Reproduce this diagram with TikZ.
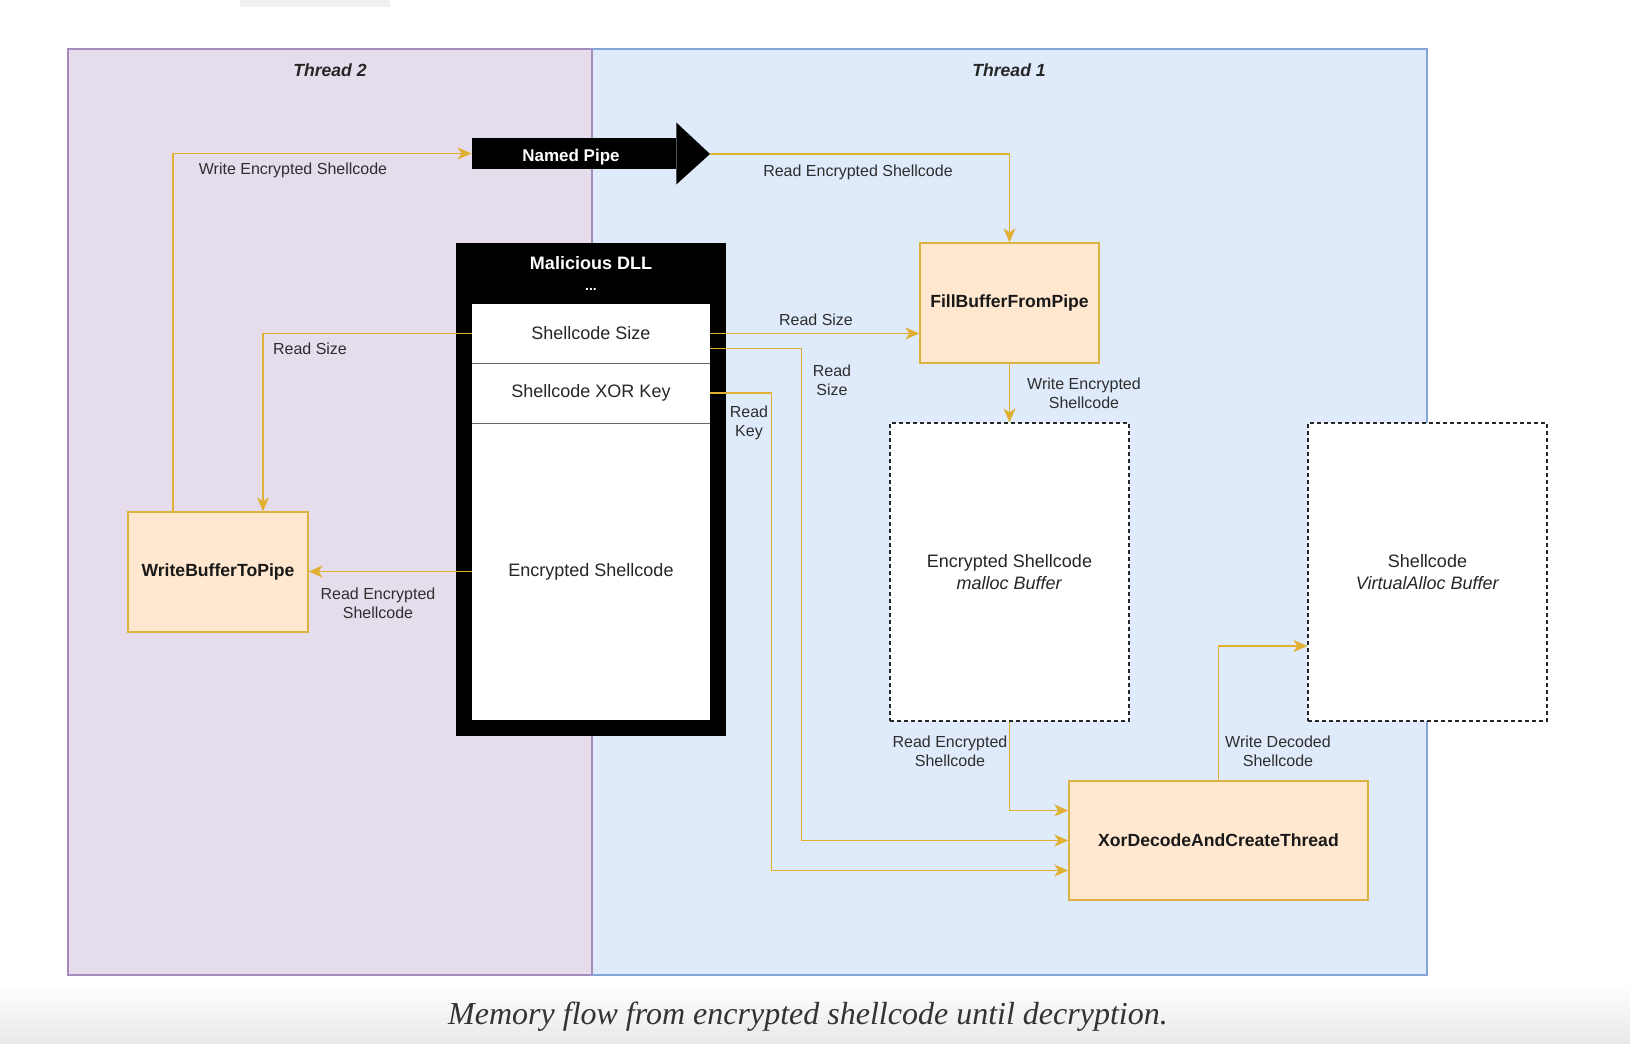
\documentclass[tikz,border=0pt]{standalone}
\usepackage{fontspec}
\setmainfont{Liberation Sans}
\newfontfamily\capfont{Liberation Serif}
\usetikzlibrary{arrows.meta,calc}

\definecolor{lanetwo}{HTML}{E6DDEC}
\definecolor{lanetwod}{HTML}{A48BB8}
\definecolor{laneone}{HTML}{DFEAFB}
\definecolor{laneoned}{HTML}{86A6DA}
\definecolor{funcf}{HTML}{FFE8CF}
\definecolor{funcd}{HTML}{DDB240}
\definecolor{flowc}{HTML}{DFB032}
\definecolor{labc}{HTML}{2E2E2E}

\begin{document}
\begin{tikzpicture}[x=0.5pt,y=-0.5pt,
	flow/.style={draw=flowc,line width=0.8pt,-{Stealth[length=7pt,width=6pt,inset=2pt]}},
	func/.style={draw=funcd,fill=funcf,line width=0.7pt,inner sep=0pt,
		font=\fontsize{8.8}{11}\selectfont\bfseries,text=black!90},
	buf/.style={draw=black!85,fill=white,line width=0.6pt,dash pattern=on 2pt off 1.5pt,
		minimum width=119.5pt,minimum height=149pt,inner sep=0pt,align=center,
		font=\fontsize{9}{11}\selectfont,text=black!85},
	cell/.style={fill=white,minimum width=119pt,
		inner sep=0pt,font=\fontsize{9}{11}\selectfont,text=black!85},
	lbl/.style={font=\fontsize{8}{9.5}\selectfont,text=labc,align=center,inner sep=0pt},
	lane/.style={font=\fontsize{8.8}{11}\selectfont\bfseries\itshape,text=black!85}]
\useasboundingbox (0,0) rectangle (1630,1044);

% page bits round the figure
\fill[black!6] (240,0) rectangle (390,7);
\shade[top color=white,bottom color=black!9] (0,985) rectangle (1630,1044);

% the two threads
\draw[fill=lanetwo,draw=lanetwod,line width=0.6pt] (68,49) rectangle (592,975);
\draw[fill=laneone,draw=laneoned,line width=0.6pt] (592,49) rectangle (1427,975);
\draw[lanetwod,line width=0.6pt] (592,49) -- (592,975);
\node[lane] (tlab2) at (330,70) {Thread 2};
\node[lane] (tlab1) at (1009,70) {Thread 1};

% named pipe
\node[fill=black,minimum width=102pt,minimum height=15.5pt,inner sep=0pt] (pipe) at (574,153.5) {};
\coordinate (pipetip) at (710,154);
\fill ([yshift=7.5pt]pipe.north east) -- (pipetip) -- ([yshift=-7.5pt]pipe.south east) -- cycle;
\node[text=white,font=\fontsize{8.5}{10}\selectfont\bfseries] (pipelab) at (571,157) {Named Pipe};

% malicious dll
\node[fill=black,minimum width=135pt,minimum height=246.5pt,inner sep=0pt] (dll) at (591,489.5) {};
\node[text=white,font=\fontsize{9}{11}\selectfont\bfseries] (dlltitle) at (591,263) {Malicious DLL};
\node[text=white,font=\fontsize{7}{8}\selectfont\bfseries] (dlldots) at (591,289) {...};
\foreach \nm/\txt/\cy/\hgt in {size/Shellcode Size/333.5/29.5pt,
	key/Shellcode XOR Key/393/30pt,
	enc/Encrypted Shellcode/571.5/148.5pt}{
	\node[cell,minimum height=\hgt] (\nm) at (591,\cy) {\txt};
}
\draw[black!60,line width=0.8pt] (size.south west) -- (size.south east)
	(key.south west) -- (key.south east);

% functions
\node[func,minimum width=90pt,minimum height=60pt] (wbuf) at (218,572) {WriteBufferToPipe};
\node[func,minimum width=89.5pt,minimum height=60pt] (fill) at (1009.5,303) {FillBufferFromPipe};
\node[func,minimum width=149.5pt,minimum height=59.5pt] (xor) at (1218.5,840.5) {XorDecodeAndCreateThread};

% buffers
\node[buf] (encbuf) at (1009.5,572) {Encrypted Shellcode\\\textit{malloc Buffer}};
\node[buf] (scbuf) at (1427.5,572) {Shellcode\\\textit{VirtualAlloc Buffer}};

% flows
\draw[flow] ([xshift=-22.5pt]wbuf.north) |- (pipe.west);
\draw[flow] (pipetip) -| (fill.north);
\draw[flow] (size.west) -| ([xshift=22.5pt]wbuf.north);
\draw[flow] (enc.west) -- (enc.west -| wbuf.east);
\draw[flow] (size.east) -- (size.east -| fill.west);
\draw[flow] ([yshift=-7.5pt]size.east) -- ++(91,0) |- (xor.west);
\draw[flow] (key.east) -- ++(61,0) |- ([yshift=-15pt]xor.west);
\draw[flow] (fill.south) -- (encbuf.north);
\draw[flow] (encbuf.south) |- ([yshift=15pt]xor.west);
\draw[flow] (xor.north) |- ([yshift=-37pt]scbuf.west);

% flow labels
\node[lbl] (l-wenc) at (293,170) {Write Encrypted Shellcode};
\node[lbl] (l-renc) at (858,172) {Read Encrypted Shellcode};
\node[lbl] (l-rsize) at (310,349) {Read Size};
\node[lbl] (l-rencl) at (378,603) {Read Encrypted\\Shellcode};
\node[lbl] (l-rsizet) at (816,320) {Read Size};
\node[lbl] (l-rsizem) at (832,380) {Read\\Size};
\node[lbl] (l-rkey) at (749,423) {Read\\Key};
\node[lbl] (l-wencb) at (1084,393) {Write Encrypted\\Shellcode};
\node[lbl] (l-rencb) at (950,751) {Read Encrypted\\Shellcode};
\node[lbl] (l-wdec) at (1278,751) {Write Decoded\\Shellcode};

% caption
\node[font=\capfont\itshape\fontsize{16}{19}\selectfont,text=black!80] (caption) at (808,1017)
	{Memory flow from encrypted shellcode until decryption.};
\end{tikzpicture}
\end{document}
